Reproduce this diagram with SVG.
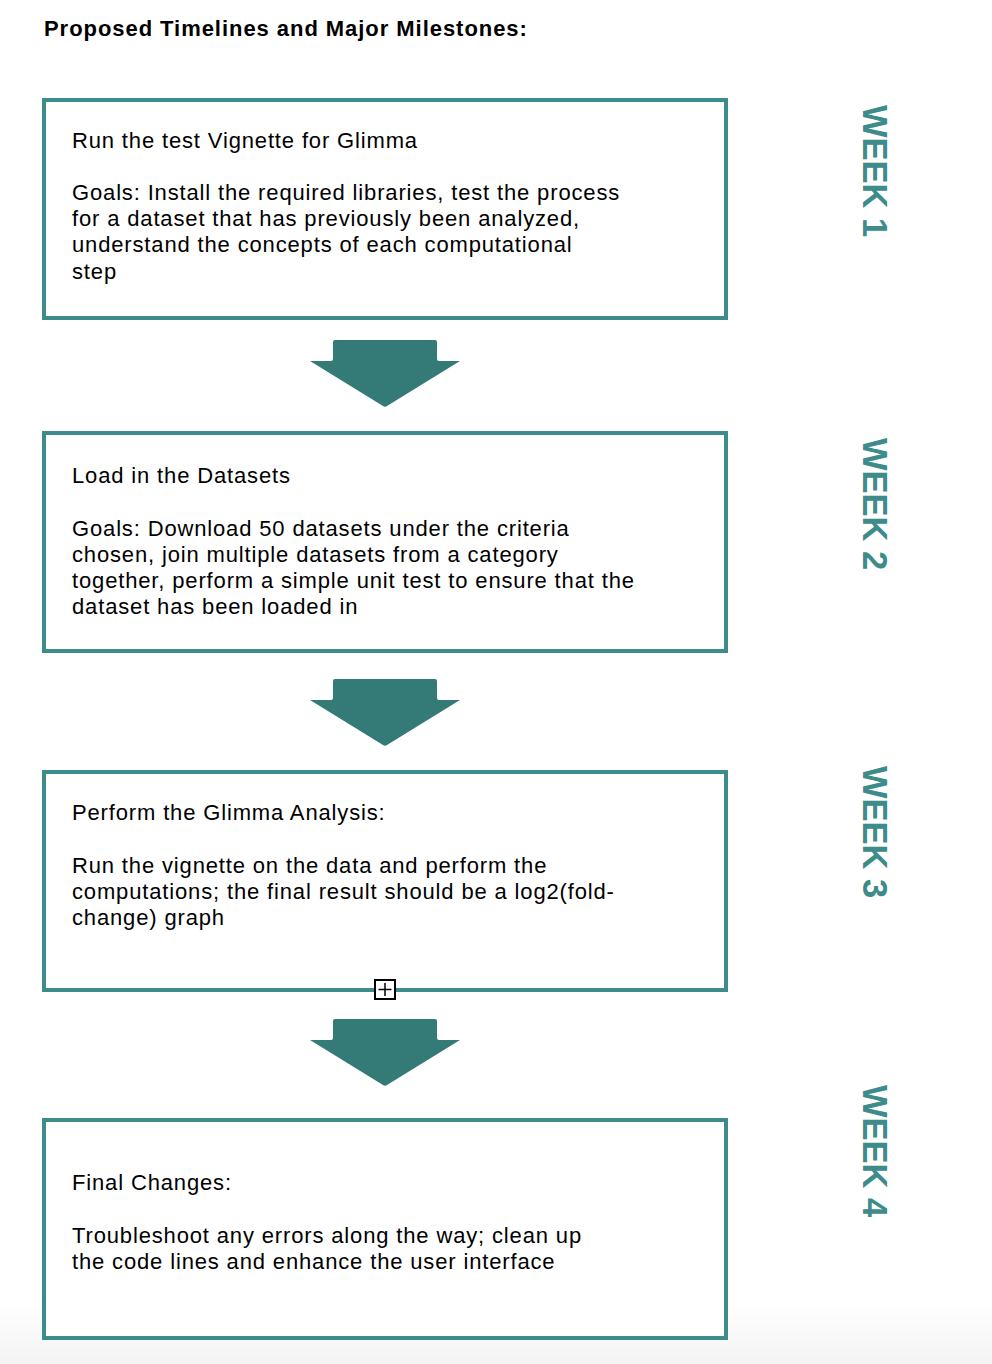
<svg xmlns="http://www.w3.org/2000/svg" width="992" height="1364" viewBox="0 0 992 1364">
<defs>
<style>
.box{fill:#fff;stroke:#3d8b8b;stroke-width:4}
.t{font-family:"Liberation Sans",Arial,sans-serif;font-size:22px;letter-spacing:0.85px;fill:#000}
.title{font-family:"Liberation Sans",Arial,sans-serif;font-size:22px;letter-spacing:0.95px;font-weight:bold;fill:#000}
.wk{font-family:"Liberation Sans",Arial,sans-serif;font-size:34.5px;font-weight:bold;fill:#3d8b8b}
.arr{fill:#347a76}
</style>
<linearGradient id="bg" x1="0" y1="0" x2="0" y2="1">
<stop offset="0" stop-color="#ffffff"/>
<stop offset="1" stop-color="#f3f3f3"/>
</linearGradient>
<path id="arrow" class="arr" d="M-52,-58 Q-52,-60 -50,-60 L50,-60 Q52,-60 52,-58 L52,-41 Q52,-39 54,-39 L75,-39 L2,6 Q0,7.5 -2,6 L-75,-39 L-54,-39 Q-52,-39 -52,-41 Z"/>
</defs>
<rect x="0" y="0" width="992" height="1364" fill="#fff"/>
<rect x="0" y="1300" width="992" height="64" fill="url(#bg)"/>
<text class="title" x="44" y="36">Proposed Timelines and Major Milestones:</text>

<g id="box1">
<rect class="box" x="44" y="100" width="682" height="218"/>
<text class="t" x="72" y="148">Run the test Vignette for Glimma</text>
<text class="t" x="72" y="200">Goals: Install the required libraries, test the process</text>
<text class="t" x="72" y="226">for a dataset that has previously been analyzed,</text>
<text class="t" x="72" y="252">understand the concepts of each computational</text>
<text class="t" x="72" y="279">step</text>
</g>
<g id="box2">
<rect class="box" x="44" y="433" width="682" height="218"/>
<text class="t" x="72" y="483">Load in the Datasets</text>
<text class="t" x="72" y="536">Goals: Download 50 datasets under the criteria</text>
<text class="t" x="72" y="562">chosen, join multiple datasets from a category</text>
<text class="t" x="72" y="588">together, perform a simple unit test to ensure that the</text>
<text class="t" x="72" y="614">dataset has been loaded in</text>
</g>
<g id="box3">
<rect class="box" x="44" y="772" width="682" height="218"/>
<text class="t" x="72" y="820">Perform the Glimma Analysis:</text>
<text class="t" x="72" y="873">Run the vignette on the data and perform the</text>
<text class="t" x="72" y="899">computations; the final result should be a log2(fold-</text>
<text class="t" x="72" y="925">change) graph</text>
</g>
<g id="box4">
<rect class="box" x="44" y="1120" width="682" height="218"/>
<text class="t" x="72" y="1190">Final Changes:</text>
<text class="t" x="72" y="1243">Troubleshoot any errors along the way; clean up</text>
<text class="t" x="72" y="1269">the code lines and enhance the user interface</text>
</g>

<g id="connectors">
<use href="#arrow" x="385" y="400"/>
<use href="#arrow" x="385" y="739"/>
<use href="#arrow" x="385" y="1079"/>
</g>

<g id="icon">
<rect x="375" y="980" width="20" height="19" fill="#fff" stroke="#000" stroke-width="2"/>
<path d="M385,983 V996 M378.5,989.5 H391.5" stroke="#000" stroke-width="1.5"/>
</g>

<g id="weeks">
<text class="wk" transform="translate(863,105) rotate(90)">WEEK 1</text>
<text class="wk" transform="translate(863,438) rotate(90)">WEEK 2</text>
<text class="wk" transform="translate(863,766) rotate(90)">WEEK 3</text>
<text class="wk" transform="translate(863,1085) rotate(90)">WEEK 4</text>
</g>
</svg>
